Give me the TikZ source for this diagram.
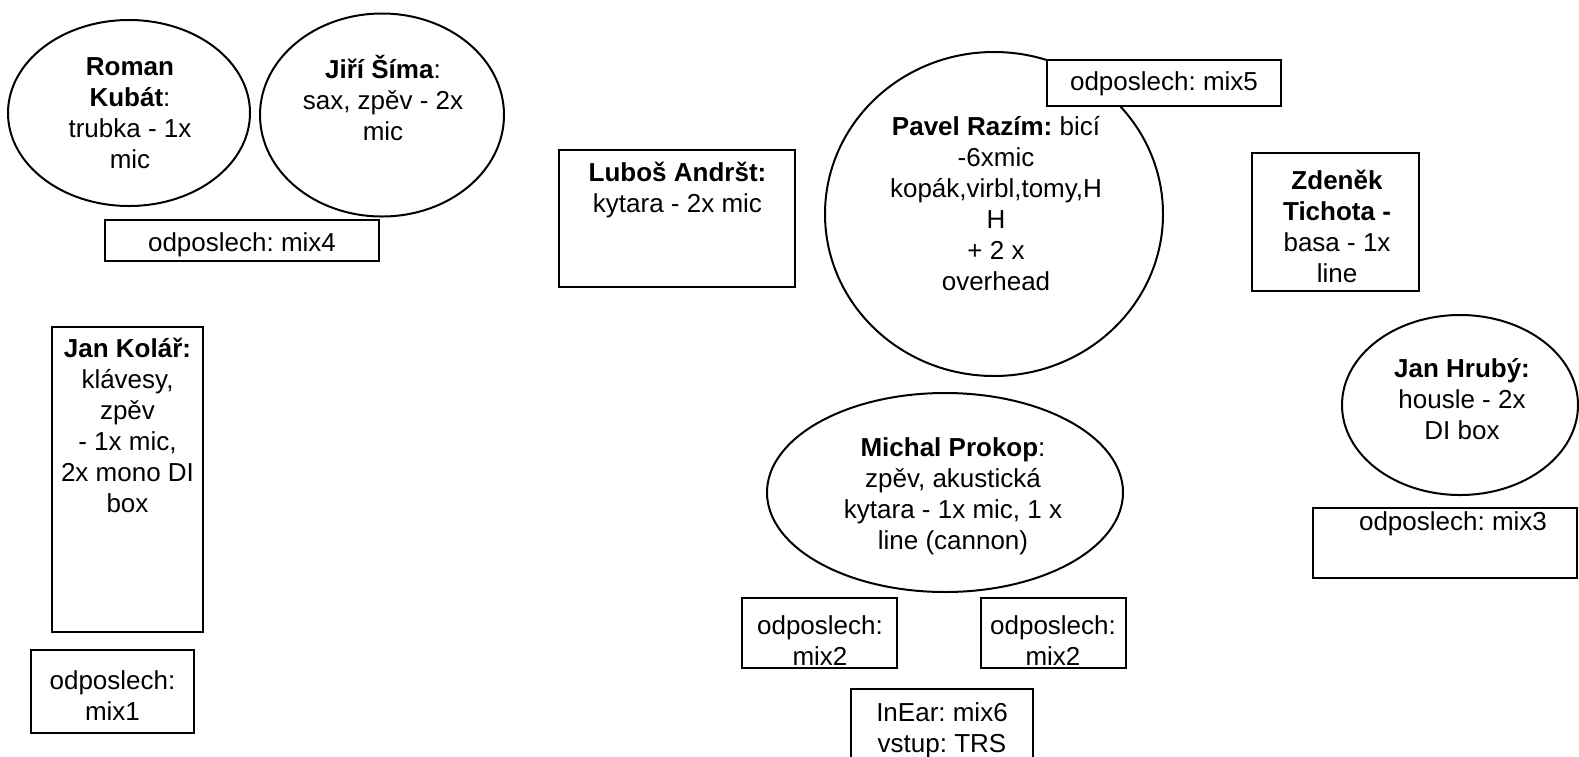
\documentclass[tikz,border=0pt]{standalone}
\usepackage{fontspec}
\setmainfont{Liberation Sans}
\usetikzlibrary{shapes.geometric}
\frenchspacing
\tikzset{
  player/.style={draw, ellipse, line width=2pt, inner sep=0pt},
  stagebox/.style={draw, rectangle, line width=2pt, inner sep=0pt},
  txt/.style={align=center, inner sep=0pt}
}
\begin{document}
\begin{tikzpicture}[x=1pt, y=-1pt, font=\fontsize{26}{31}\selectfont]
    \clip (0,0) rectangle (1579,756);

    % ovals
    \node[player, minimum width=242pt, minimum height=186pt] (roman) at (129,113) {};
    \node[player, minimum width=244pt, minimum height=203pt] (jiri) at (382,115) {};
    \node[player, minimum width=338pt, minimum height=324pt] (pavel) at (994,214) {};
    \node[player, minimum width=356pt, minimum height=199pt] (michal) at (945,492.5) {};
    \node[player, minimum width=236pt, minimum height=180pt] (hruby) at (1460,405) {};

    % boxes
    \node[stagebox, minimum width=274pt, minimum height=41pt] (mix4) at (242,240.5) {};
    \node[stagebox, minimum width=236pt, minimum height=137pt] (lubos) at (677,218.5) {};
    \node[stagebox, fill=white, minimum width=234pt, minimum height=46pt] (mix5) at (1164,83) {};
    \node[stagebox, minimum width=167pt, minimum height=138pt] (zdenek) at (1335.5,222) {};
    \node[stagebox, minimum width=264pt, minimum height=70pt] (mix3) at (1445,543) {};
    \node[stagebox, minimum width=151pt, minimum height=305pt] (kolar) at (127.5,479.5) {};
    \node[stagebox, minimum width=163pt, minimum height=83pt] (mix1) at (112.5,691.5) {};
    \node[stagebox, minimum width=155pt, minimum height=70pt] (mix2l) at (819.5,633) {};
    \node[stagebox, minimum width=145pt, minimum height=70pt] (mix2r) at (1053.5,633) {};
    \node[stagebox, minimum width=182pt, minimum height=83pt] (inear) at (942,730.5) {};

    % texts
    \node[txt] (roman-txt) at (130,113) {\textbf{Roman}\\\textbf{Kubát}:\\trubka - 1x\\mic};
    \node[txt] (jiri-txt) at (383,98) {\textbf{Jiří Šíma}:\\sax, zpěv - 2x\\mic};
    \node[txt] (mix4-txt) at (242,245) {odposlech: mix4};
    \node[txt] (lubos-txt) at (677.5,190) {\textbf{Luboš Andršt:}\\kytara - 2x mic};
    \node[txt] (pavel-txt) at (996,204) {\textbf{Pavel Razím:} bicí\\-6xmic\\kopák,virbl,tomy,H\\H\\+ 2 x\\overhead};
    \node[txt] (mix5-txt) at (1164,84) {odposlech: mix5};
    \node[txt] (zdenek-txt) at (1337,226) {\textbf{Zdeněk}\\\textbf{Tichota -}\\basa - 1x\\line};
    \node[txt] (hruby-txt) at (1462,399) {\textbf{Jan Hrubý:}\\housle - 2x\\DI box};
    \node[txt] (mix3-txt) at (1453,524) {odposlech: mix3};
    \node[txt] (kolar-txt) at (127.5,425) {\textbf{Jan Kolář:}\\klávesy,\\zpěv\\- 1x mic,\\2x mono DI\\box};
    \node[txt] (mix1-txt) at (112.5,696) {odposlech:\\mix1};
    \node[txt] (michal-txt) at (953,496) {\textbf{Michal Prokop}:\\zpěv, akustická\\kytara - 1x mic, 1 x\\line (cannon)};
    \node[txt] (mix2l-txt) at (820,641) {odposlech:\\mix2};
    \node[txt] (mix2r-txt) at (1053,641) {odposlech:\\mix2};
    \node[txt] (inear-txt) at (942,730) {InEar: mix6\\vstup: TRS};
\end{tikzpicture}
\end{document}
